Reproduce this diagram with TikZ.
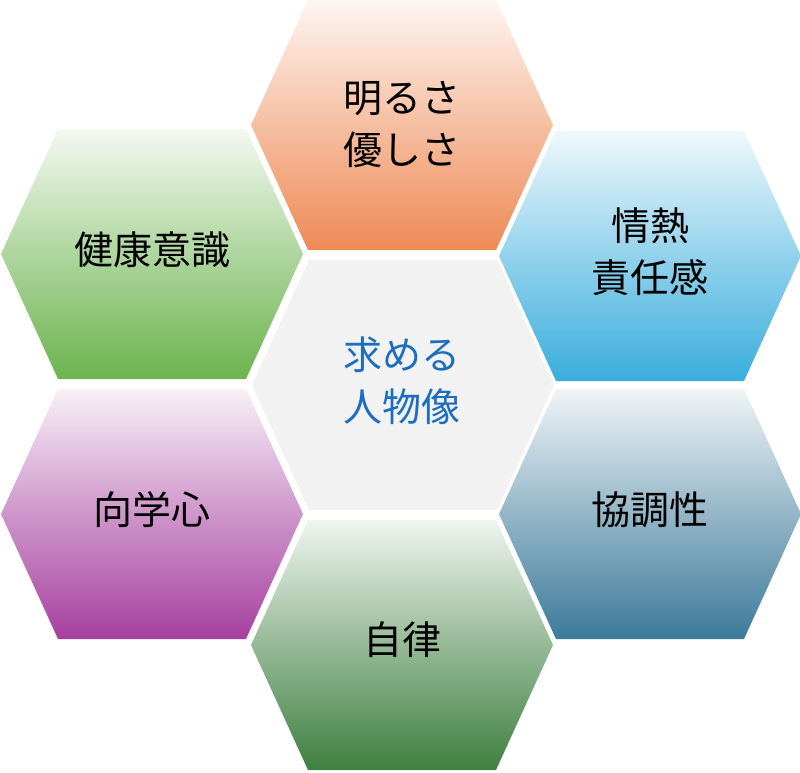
\documentclass[tikz,border=0pt]{standalone}
\usepackage{fontspec}
\setmainfont{Noto Sans CJK JP}
\definecolor{cor}{HTML}{EE8A55}
\definecolor{cbl}{HTML}{3AADDD}
\definecolor{cte}{HTML}{3C7A9A}
\definecolor{cgr}{HTML}{6CB44E}
\definecolor{cpu}{HTML}{A6409F}
\definecolor{cdg}{HTML}{3F8040}
\definecolor{ctx}{HTML}{1E6EBF}
\newcommand{\myhex}[3]{%
 \begin{scope}[shift={(#1,#2)}]
 \shade[top color=#3!8,bottom color=#3,middle color=#3!55]
 (-151,0) -- (-94,-125) -- (94,-125) -- (151,0) -- (94,125) -- (-94,125) -- cycle;
 \end{scope}}
\begin{document}
\begin{tikzpicture}[x=1pt,y=-1pt]
\tikzset{lbl/.style={align=center,font=\fontsize{39}{52}\selectfont,inner sep=0pt}}
\useasboundingbox (0,0) rectangle (800,772);
\myhex{402}{125}{cor}
\myhex{152}{254}{cgr}
\myhex{650}{256}{cbl}
\myhex{152}{514}{cpu}
\myhex{650}{514}{cte}
\myhex{402}{645}{cdg}
\fill[gray!10] (252,385) -- (309,260) -- (497,260) -- (554,385) -- (497,510) -- (309,510) -- cycle;
\node[lbl] (a) at (402,125) {明るさ\\優しさ};
\node[lbl] (b) at (152,250) {健康意識};
\node[lbl] (c) at (650,252) {情熱\\責任感};
\node[lbl] (d) at (152,510) {向学心};
\node[lbl] (e) at (650,510) {協調性};
\node[lbl] (f) at (402,640) {自律};
\node[lbl,text=ctx] (g) at (402,381) {求める\\人物像};
\end{tikzpicture}
\end{document}
